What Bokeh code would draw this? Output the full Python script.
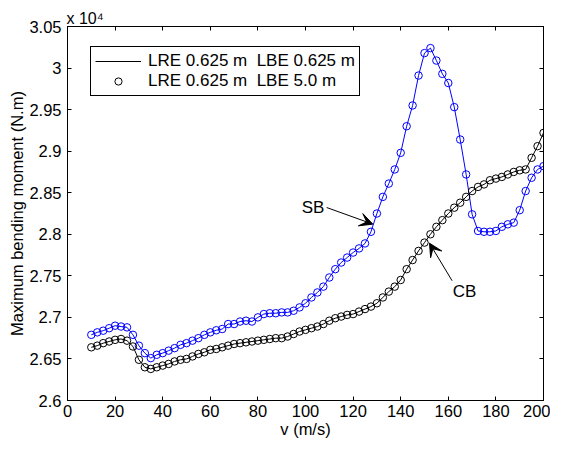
from bokeh.plotting import figure
from bokeh.models import (Range1d, FixedTicker, LinearAxis, Legend, LegendItem,
                          Label, Arrow, VeeHead)
from bokeh.embed import file_html
from bokeh.resources import INLINE

# ---------------- data ----------------
v = [10 + 2.5 * i for i in range(77)]

sb_moment = [26790, 26820, 26840, 26870, 26900, 26890, 26880, 26790, 26660, 26570,
             26510, 26550, 26570, 26600, 26630, 26670, 26690, 26720, 26750, 26790,
             26820, 26845, 26860, 26920, 26920, 26950, 26960, 26950, 27000, 27040,
             27050, 27050, 27060, 27060, 27080, 27120, 27170, 27240, 27300, 27370,
             27480, 27580, 27660, 27720, 27780, 27830, 27890, 28030, 28250, 28450,
             28610, 28780, 28980, 29300, 29550, 29910, 30180, 30240, 30090, 29930,
             29820, 29530, 29140, 28720, 28240, 28040, 28030, 28030, 28040, 28090,
             28120, 28140, 28290, 28520, 28680, 28780, 28820]

cb_moment = [26640, 26660, 26690, 26710, 26730, 26740, 26720, 26650, 26490, 26400,
             26380, 26400, 26420, 26440, 26470, 26490, 26500, 26530, 26560, 26580,
             26610, 26620, 26640, 26660, 26680, 26690, 26700, 26710, 26720, 26730,
             26740, 26750, 26750, 26770, 26800, 26830, 26850, 26870, 26890, 26920,
             26960, 26990, 27010, 27030, 27040, 27070, 27100, 27130, 27170, 27240,
             27310, 27370, 27450, 27580, 27690, 27800, 27900, 28000, 28090, 28170,
             28250, 28320, 28380, 28450, 28520, 28570, 28600, 28650, 28670, 28690,
             28720, 28750, 28770, 28780, 28920, 29060, 29220]

x_ticks = [0, 20, 40, 60, 80, 100, 120, 140, 160, 180, 200]
y_ticks = [26000, 26500, 27000, 27500, 28000, 28500, 29000, 29500, 30000, 30500]
y_tick_labels = ["2.6", "2.65", "2.7", "2.75", "2.8", "2.85", "2.9", "2.95", "3", "3.05"]

legend_labels = ["LRE 0.625 m  LBE 0.625 m", "LRE 0.625 m  LBE 5.0 m"]
exponent_text = "x 10\u2074"

FONT = "Liberation Sans"

# ---------------- figure ----------------
p = figure(width=550, height=442, x_range=Range1d(0, 200), y_range=Range1d(26000, 30500),
           output_backend="svg", toolbar_location=None,
           min_border_left=67, min_border_right=7, min_border_top=26, min_border_bottom=42)
p.background_fill_color = "white"
p.border_fill_color = "white"
p.outline_line_color = "black"
p.outline_line_width = 1
p.xgrid.visible = False
p.ygrid.visible = False

# exponent marker shown as the title, left-aligned above the frame
p.title.text = exponent_text
p.title.align = "left"
p.title.offset = -1
p.title.standoff = 0
p.title.text_font = FONT
p.title.text_font_size = "16px"
p.title.text_font_style = "normal"
p.title.text_color = "black"

def style_axis(ax, show_labels=True):
    ax.axis_line_color = "black"
    ax.axis_line_width = 1
    ax.major_tick_in = 4
    ax.major_tick_out = 0
    ax.major_tick_line_color = "black"
    ax.minor_tick_line_color = None
    ax.major_label_text_font = FONT
    ax.major_label_text_color = "black"
    ax.axis_label_text_font = FONT
    ax.axis_label_text_font_style = "normal"
    ax.axis_label_text_color = "black"
    ax.axis_label_text_font_size = "16.5px"
    if show_labels:
        ax.major_label_text_font_size = "16.5px"
    else:
        ax.major_label_text_font_size = "0px"
        ax.major_label_standoff = 0

xa = p.xaxis[0]
xa.ticker = FixedTicker(ticks=x_ticks)
style_axis(xa)
xa.major_label_standoff = 4
xa.axis_label = "v (m/s)"
xa.axis_label_standoff = 0

ya = p.yaxis[0]
ya.ticker = FixedTicker(ticks=y_ticks)
ya.major_label_overrides = {t: s for t, s in zip(y_ticks, y_tick_labels)}
style_axis(ya)
ya.major_label_standoff = 6
ya.axis_label = "Maximum bending moment (N.m)"
ya.axis_label_standoff = 0

top = LinearAxis(ticker=FixedTicker(ticks=x_ticks))
top.major_label_overrides = {t: "" for t in x_ticks}
style_axis(top, show_labels=False)
p.add_layout(top, "above")

right = LinearAxis(ticker=FixedTicker(ticks=y_ticks))
right.major_label_overrides = {t: "" for t in y_ticks}
style_axis(right, show_labels=False)
p.add_layout(right, "right")

# ---------------- series ----------------
r_sb_line = p.line(v, sb_moment, line_color="blue", line_width=1)
r_sb_pts = p.scatter(v, sb_moment, marker="circle", size=7.5, fill_color=None,
                     line_color="blue", line_width=1)
r_cb_line = p.line(v, cb_moment, line_color="black", line_width=1)
r_cb_pts = p.scatter(v, cb_moment, marker="circle", size=7.5, fill_color=None,
                     line_color="black", line_width=1)

legend = Legend(items=[LegendItem(label=legend_labels[0], renderers=[r_cb_line]),
                       LegendItem(label=legend_labels[1], renderers=[r_cb_pts])],
                location=(23, 304))
legend.padding = 4
legend.spacing = 0
legend.glyph_width = 46
legend.glyph_height = 18
legend.label_height = 18
legend.label_standoff = 7
legend.margin = 0
legend.label_text_font = FONT
legend.label_text_font_size = "17px"
legend.label_text_color = "black"
legend.border_line_color = "black"
legend.border_line_width = 1
legend.border_line_alpha = 1
legend.background_fill_color = "white"
legend.background_fill_alpha = 1
p.add_layout(legend)

# ---------------- annotations ----------------
p.add_layout(Arrow(end=VeeHead(size=13, fill_color="black", line_color="black"),
                   x_start=108.9, y_start=28322, x_end=128.3, y_end=28122,
                   line_color="black", line_width=1))
p.add_layout(Label(x=103.2, y=28322, text="SB", text_align="center",
                   text_baseline="middle", text_font=FONT, text_font_size="17px",
                   text_color="black"))
p.add_layout(Arrow(end=VeeHead(size=13, fill_color="black", line_color="black"),
                   x_start=161.6, y_start=27441, x_end=152.1, y_end=27893,
                   line_color="black", line_width=1))
p.add_layout(Label(x=166.8, y=27312, text="CB", text_align="center",
                   text_baseline="middle", text_font=FONT, text_font_size="17px",
                   text_color="black"))

open("out.html", "w").write(file_html(p, INLINE))
